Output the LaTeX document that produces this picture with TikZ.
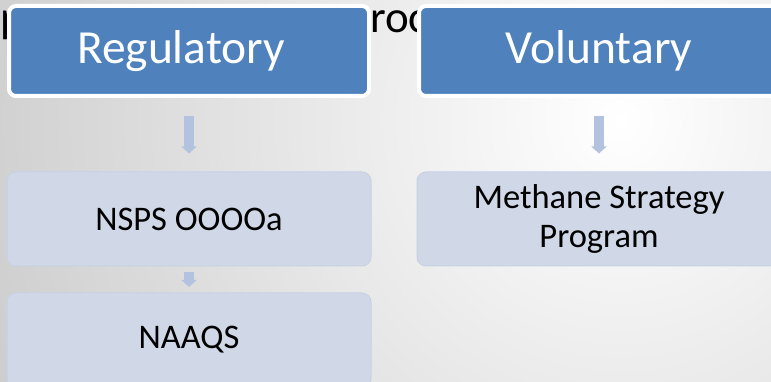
\documentclass[tikz,border=0pt]{standalone}
\usepackage{fontspec}
\setmainfont{Carlito}
\usetikzlibrary{positioning,arrows.meta}
\definecolor{hdrblue}{HTML}{4F81BD}
\definecolor{boxblue}{HTML}{D0D8E8}
\definecolor{boxedge}{HTML}{C8D1E3}
\definecolor{arrblue}{HTML}{B3C3DF}

\begin{document}
\begin{tikzpicture}[x=1pt, y=1pt, node distance=168pt, on grid,
    hdr/.style={rectangle, rounded corners=7pt, draw=white, line width=4pt,
      fill=hdrblue, text=white, minimum width=360pt, minimum height=90pt,
      inner sep=0pt, font=\fontsize{47.5}{52}\selectfont},
    item/.style={rectangle, rounded corners=9pt, draw=boxedge, line width=1pt,
      fill=boxblue, minimum width=364pt, minimum height=94pt, inner sep=0pt,
      align=center, font=\fontsize{34.5}{39}\selectfont},
    flow/.style={arrblue, line width=10pt, -{Triangle[width=15pt,length=7pt]}},
    title/.style={anchor=base west, inner sep=0pt, font=\fontsize{45}{50}\selectfont}]
  \useasboundingbox (0,0) rectangle (771,382);
  \clip (0,0) rectangle (771,382);
  % slide background
  \shade[inner color=white, outer color=black!37] (620,262) circle (1280pt);
  % bits of the slide title peeking out behind the boxes
  \node[title] (ttlp) at (0,349) {p};
  \node[title] (ttlr) at (370,349) {roc};
  % two columns
  \node[hdr] (reg) at (189,331) {Regulatory\hspace*{16pt}};
  \node[hdr, right=410pt of reg] (vol) {Voluntary};
  \node[item, below=of reg] (nsps) {NSPS OOOOa};
  \node[item, below=121pt of nsps] (naaqs) {NAAQS};
  \node[item, right=410pt of nsps] (meth) {Methane Strategy\\Program};
  \draw[flow, shorten <=18pt, shorten >=18pt] (reg) -- (nsps);
  \draw[flow, shorten <=18pt, shorten >=18pt] (vol) -- (meth);
  \draw[flow, shorten <=5.5pt, shorten >=5.5pt] (nsps) -- (naaqs);
\end{tikzpicture}
\end{document}
